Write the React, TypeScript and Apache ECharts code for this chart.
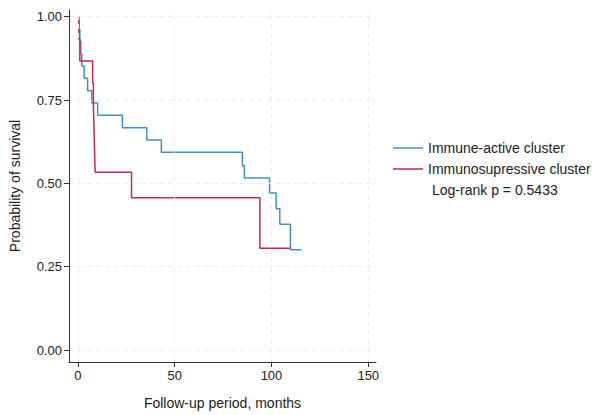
import React, { useEffect, useRef } from "react";
import * as echarts from "echarts";

const xTicks = [0, 50, 100, 150];
const yTicks = [0, 0.25, 0.5, 0.75, 1];

const activeName = "Immune-active cluster";
const activeTimes = [0, 0.5, 1, 1.5, 2, 3.2, 5, 7.2, 10.2, 23, 35.6, 43.1, 85, 86, 99, 102.4, 104.3, 109.8, 115.5];
const activeSurv = [1, 0.963, 0.926, 0.889, 0.852, 0.815, 0.778, 0.741, 0.704, 0.667, 0.63, 0.593, 0.553, 0.516, 0.471, 0.424, 0.377, 0.301, 0.301];

const supName = "Immunosupressive cluster";
const supTimes = [0, 0.5, 1, 7.6, 8, 8.3, 8.6, 8.9, 27.7, 94, 109.8];
const supSurv = [1, 0.933, 0.867, 0.8, 0.733, 0.667, 0.6, 0.533, 0.457, 0.305, 0.305];

const pText = "Log-rank p = 0.5433";
const xTitle = "Follow-up period, months";
const yTitle = "Probability of survival";

const FONT = "Liberation Sans, Arial, Helvetica, sans-serif";
const BLUE = "#3f8fcf";
const RED = "#cc2455";

export default function App() {
  const ref = useRef<HTMLDivElement>(null);
  useEffect(() => {
    if (!ref.current) return;
    const chart = echarts.init(ref.current, undefined, { renderer: "svg" });
    const zip = (t: number[], s: number[]) => t.map((v, i) => [v, s[i]]);
    const gridLine = { type: [5, 4] as any, color: "#ececec", width: 1 };
    chart.setOption({
      animation: false,
      backgroundColor: "#ffffff",
      textStyle: { fontFamily: FONT },
      grid: { left: 68, right: 219, top: 10, bottom: 47 },
      xAxis: {
        type: "value",
        min: -4.6,
        max: 154,
        name: xTitle,
        nameLocation: "middle",
        nameGap: 34,
        nameTextStyle: { fontSize: 14, color: "#222", fontFamily: FONT },
        axisLine: { show: true, onZero: false, lineStyle: { color: "#333", width: 1 } },
        axisTick: { show: true, length: 5, customValues: xTicks, lineStyle: { color: "#333" } },
        axisLabel: { customValues: xTicks, fontSize: 13, color: "#222", margin: 7, fontFamily: FONT },
        splitLine: { show: false },
        z: 5,
      },
      yAxis: {
        type: "value",
        min: -0.036,
        max: 1.02,
        name: yTitle,
        nameLocation: "middle",
        nameGap: 47,
        nameRotate: 90,
        nameTextStyle: { fontSize: 14, color: "#222", fontFamily: FONT },
        axisLine: { show: true, onZero: false, lineStyle: { color: "#333", width: 1 } },
        axisTick: { show: true, length: 5, customValues: yTicks, lineStyle: { color: "#333" } },
        axisLabel: {
          customValues: yTicks,
          fontSize: 13,
          color: "#222",
          margin: 7,
          fontFamily: FONT,
          formatter: (v: number) => v.toFixed(2),
        },
        splitLine: { show: false },
        z: 5,
      },
      legend: {
        orient: "vertical",
        left: 388,
        top: 136,
        itemWidth: 30,
        itemHeight: 1.5,
        itemGap: 7,
        icon: "rect",
        textStyle: { fontSize: 14, color: "#222", fontFamily: FONT },
        data: [activeName, supName],
      },
      graphic: [
        {
          type: "text",
          left: 432,
          top: 183,
          style: { text: pText, fontSize: 14, fill: "#222", fontFamily: FONT },
        },
      ],
      series: [
        {
          name: "grid",
          type: "line",
          data: [],
          silent: true,
          z: 1,
          markLine: {
            silent: true,
            symbol: "none",
            label: { show: false },
            lineStyle: gridLine,
            data: [
              ...xTicks.map((v) => ({ xAxis: v })),
              ...yTicks.map((v) => ({ yAxis: v })),
            ],
          },
        },
        {
          name: activeName,
          type: "line",
          step: "end",
          showSymbol: false,
          symbol: "none",
          data: zip(activeTimes, activeSurv),
          lineStyle: { color: BLUE, width: 1.5 },
          itemStyle: { color: BLUE },
          z: 3,
        },
        {
          name: supName,
          type: "line",
          step: "end",
          showSymbol: false,
          symbol: "none",
          data: zip(supTimes, supSurv),
          lineStyle: { color: RED, width: 1.5 },
          itemStyle: { color: RED },
          z: 4,
        },
      ],
    });
    return () => chart.dispose();
  }, []);
  return <div ref={ref} style={{ width: 595, height: 415, position: "absolute", left: 0, top: 0 }} />;
}
